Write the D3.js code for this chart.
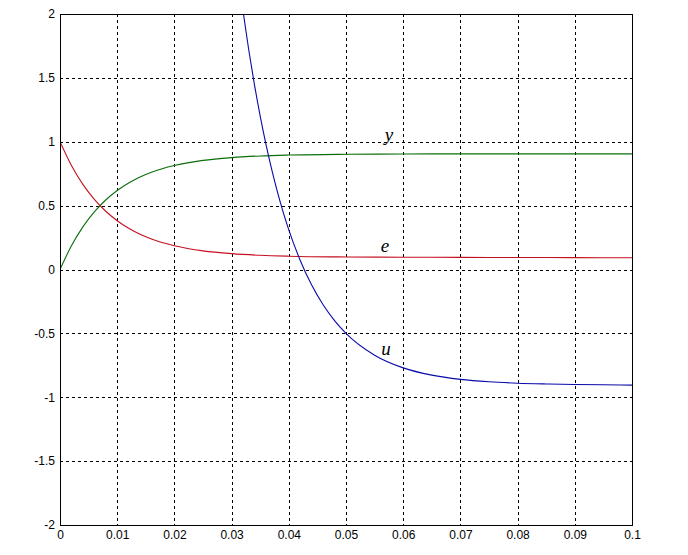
<!DOCTYPE html>
<html>
<head>
<meta charset="utf-8">
<script src="https://cdn.jsdelivr.net/npm/d3@7"></script>
<style>
  body { margin: 0; background: #fff; }
  svg { display: block; }
</style>
</head>
<body>
<div id="chart"></div>
<script>
// time samples and responses
var tYE = [0, 0.002, 0.004, 0.006, 0.008, 0.010, 0.012, 0.014, 0.016, 0.018, 0.020,
           0.025, 0.030, 0.035, 0.040, 0.050, 0.060, 0.070, 0.080, 0.090, 0.100];
var yVals = [0, 0.186, 0.334, 0.451, 0.544, 0.618, 0.677, 0.724, 0.761, 0.791, 0.814,
             0.854, 0.876, 0.889, 0.896, 0.902, 0.904, 0.905, 0.905, 0.905, 0.905];
var eVals = [1, 0.814, 0.666, 0.549, 0.456, 0.382, 0.323, 0.276, 0.239, 0.209, 0.186,
             0.146, 0.124, 0.111, 0.104, 0.098, 0.096, 0.095, 0.094, 0.093, 0.092];

var tU = [0.031, 0.032, 0.033, 0.034, 0.035, 0.036, 0.037, 0.038, 0.039, 0.040, 0.042,
          0.044, 0.046, 0.048, 0.050, 0.055, 0.060, 0.065, 0.070, 0.075, 0.080, 0.085,
          0.090, 0.095, 0.100];
var uVals = [2.363, 2.023, 1.718, 1.445, 1.200, 0.981, 0.785, 0.609, 0.451, 0.310, 0.071,
             -0.122, -0.276, -0.400, -0.500, -0.671, -0.770, -0.827, -0.860, -0.879, -0.890, -0.896,
             -0.900, -0.902, -0.905];

var xTicks = [0, 0.01, 0.02, 0.03, 0.04, 0.05, 0.06, 0.07, 0.08, 0.09, 0.1];
var xTickLabels = ["0", "0.01", "0.02", "0.03", "0.04", "0.05", "0.06", "0.07", "0.08", "0.09", "0.1"];
var yTicks = [-2, -1.5, -1, -0.5, 0, 0.5, 1, 1.5, 2];
var yTickLabels = ["-2", "-1.5", "-1", "-0.5", "0", "0.5", "1", "1.5", "2"];

// curve labels: [text, t, value]
var curveLabels = [["y", 0.0575, 1.006], ["e", 0.0568, 0.137], ["u", 0.0570, -0.67]];

(function(){

  var W = 688, H = 555;
  var pLeft = 60, pRight = 632, pTop = 14, pBottom = 525;

  var svg = d3.select("#chart").append("svg")
    .attr("width", W)
    .attr("height", H);

  var x = d3.scaleLinear().domain([0, 0.1]).range([pLeft, pRight]);
  var y = d3.scaleLinear().domain([-2, 2]).range([pBottom, pTop]);

  svg.append("defs").append("clipPath").attr("id", "plot")
    .append("rect")
    .attr("x", pLeft).attr("y", pTop)
    .attr("width", pRight - pLeft).attr("height", pBottom - pTop);

  // grid
  var grid = svg.append("g")
    .attr("stroke", "#000")
    .attr("stroke-width", 1)
    .attr("stroke-dasharray", "3,3")
    .attr("shape-rendering", "crispEdges");

  grid.selectAll("line.vx")
    .data(xTicks.slice(1, -1))
    .enter().append("line")
    .attr("x1", function(d){ return Math.round(x(d)) + 0.5; })
    .attr("x2", function(d){ return Math.round(x(d)) + 0.5; })
    .attr("y1", pTop).attr("y2", pBottom);

  grid.selectAll("line.hy")
    .data(yTicks.slice(1, -1))
    .enter().append("line")
    .attr("y1", function(d){ return Math.round(y(d)) + 0.5; })
    .attr("y2", function(d){ return Math.round(y(d)) + 0.5; })
    .attr("x1", pLeft).attr("x2", pRight);

  // curves
  var line = d3.line()
    .x(function(d){ return x(d[0]); })
    .y(function(d){ return y(d[1]); })
    .curve(d3.curveMonotoneX);

  var plot = svg.append("g").attr("clip-path", "url(#plot)")
    .attr("fill", "none")
    .attr("stroke-width", 1.1);

  plot.append("path")
    .datum(d3.zip(tYE, yVals))
    .attr("stroke", "#0b6e0b")
    .attr("d", line);

  plot.append("path")
    .datum(d3.zip(tYE, eVals))
    .attr("stroke", "#c41020")
    .attr("d", line);

  plot.append("path")
    .datum(d3.zip(tU, uVals))
    .attr("stroke", "#0a0aa8")
    .attr("d", line);

  // box
  svg.append("rect")
    .attr("x", pLeft + 0.5).attr("y", pTop + 0.5)
    .attr("width", pRight - pLeft).attr("height", pBottom - pTop)
    .attr("fill", "none")
    .attr("stroke", "#000")
    .attr("shape-rendering", "crispEdges");

  // tick labels
  var xAxis = d3.axisBottom(x)
    .tickValues(xTicks)
    .tickFormat(function(d, i){ return xTickLabels[i]; })
    .tickSize(0)
    .tickPadding(5);

  var yAxis = d3.axisLeft(y)
    .tickValues(yTicks)
    .tickFormat(function(d, i){ return yTickLabels[i]; })
    .tickSize(0)
    .tickPadding(5);

  var gx = svg.append("g").attr("transform", "translate(0," + pBottom + ")").call(xAxis);
  var gy = svg.append("g").attr("transform", "translate(" + pLeft + ",0)").call(yAxis);

  [gx, gy].forEach(function(g){
    g.select(".domain").remove();
    g.selectAll("text")
      .attr("fill", "#000")
      .style("font-family", "'Liberation Sans', Arial, sans-serif")
      .style("font-size", "12px");
  });

  // curve names
  svg.selectAll("text.curve")
    .data(curveLabels)
    .enter().append("text")
    .attr("class", "curve")
    .attr("x", function(d){ return x(d[1]); })
    .attr("y", function(d){ return y(d[2]); })
    .attr("text-anchor", "middle")
    .style("font-family", "'Liberation Serif', 'Times New Roman', serif")
    .style("font-style", "italic")
    .style("font-size", "19px")
    .text(function(d){ return d[0]; });

})();
</script>
</body>
</html>
